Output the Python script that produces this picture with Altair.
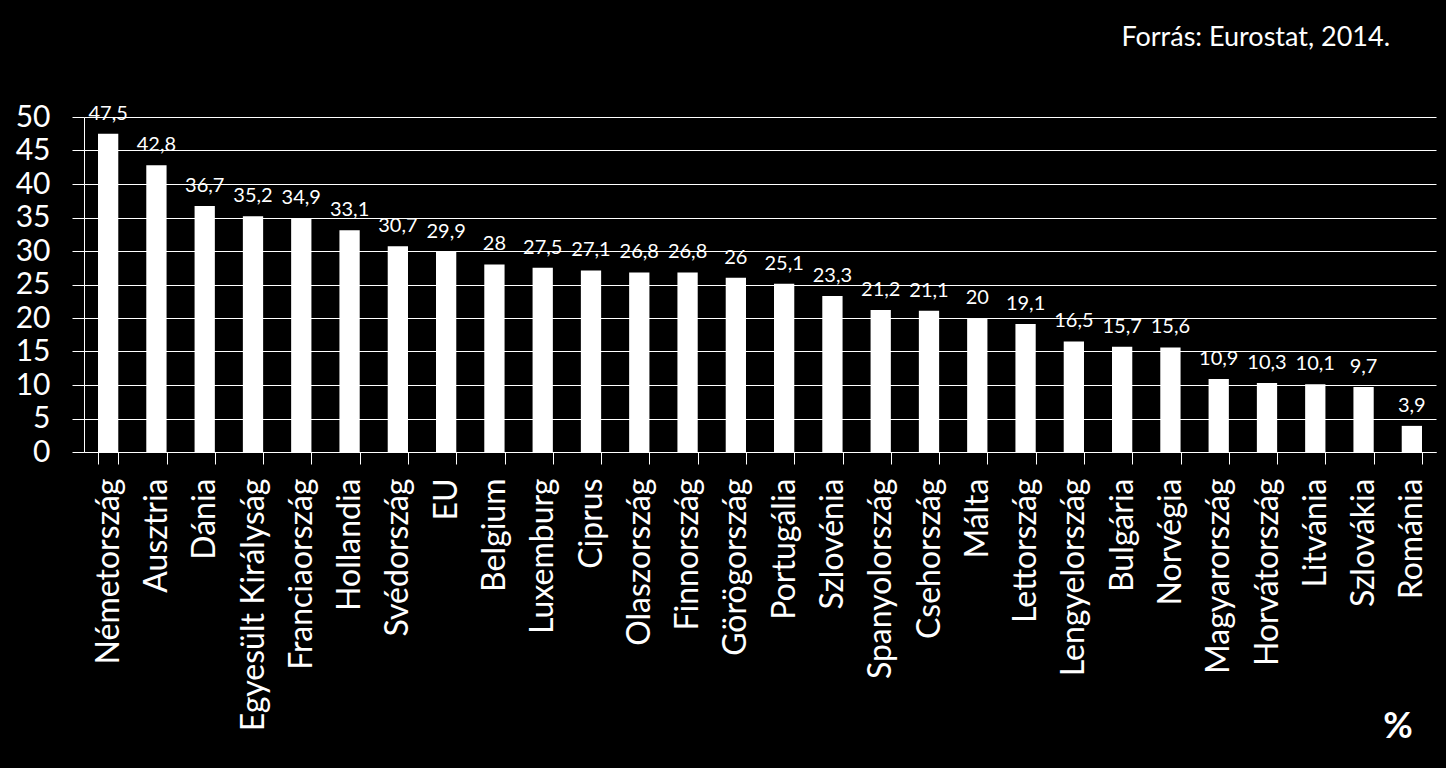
import altair as alt
import pandas as pd

countries = ["Németország", "Ausztria", "Dánia", "Egyesült Királyság", "Franciaország",
             "Hollandia", "Svédország", "EU", "Belgium", "Luxemburg", "Ciprus",
             "Olaszország", "Finnország", "Görögország", "Portugália", "Szlovénia",
             "Spanyolország", "Csehország", "Málta", "Lettország", "Lengyelország",
             "Bulgária", "Norvégia", "Magyarország", "Horvátország", "Litvánia",
             "Szlovákia", "Románia"]
values = [47.5, 42.8, 36.7, 35.2, 34.9, 33.1, 30.7, 29.9, 28, 27.5, 27.1, 26.8, 26.8,
          26, 25.1, 23.3, 21.2, 21.1, 20, 19.1, 16.5, 15.7, 15.6, 10.9, 10.3, 10.1, 9.7, 3.9]
y_ticks = [0, 5, 10, 15, 20, 25, 30, 35, 40, 45, 50]
source_text = "Forrás: Eurostat, 2014."
unit_text = "%"

df = pd.DataFrame({
    "country": countries,
    "value": values,
    "label": [f"{v:g}".replace(".", ",") for v in values],
})

FONT = "Lato"
W, H = 1352, 335

x = alt.X("country:N", sort=None, title=None,
          scale=alt.Scale(paddingInner=0.58, paddingOuter=0.29),
          axis=alt.Axis(labelAngle=-90, labelFontSize=32, labelColor="white",
                        labelFont=FONT, labelPadding=14, tickBand="extent",
                        tickColor="white", tickSize=12, domainColor="white",
                        labelBaseline="middle", labelAlign="right", grid=False,
                        labelLimit=400, labelOverlap=False))
y = alt.Y("value:Q", title=None,
          scale=alt.Scale(domain=[0, 50], nice=False),
          axis=alt.Axis(values=y_ticks, labelFontSize=30, labelColor="white",
                        labelFont=FONT, labelPadding=22, tickColor="white", tickSize=12,
                        domainColor="white", gridColor="white", gridOpacity=1,
                        gridWidth=1, labelOverlap=False, labelFlush=False))

bars = alt.Chart(df).mark_bar(color="white").encode(x=x, y=y)
labels = alt.Chart(df).mark_text(color="white", font=FONT, fontSize=20,
                                 baseline="bottom", dy=-10).encode(
    x=x, y=y, text="label:N")

src = alt.Chart(pd.DataFrame({"t": [source_text]})).mark_text(
    color="white", font=FONT, fontSize=27, align="right", baseline="middle").encode(
    x=alt.value(1306), y=alt.value(-79), text="t:N")
unit = alt.Chart(pd.DataFrame({"t": [unit_text]})).mark_text(
    color="white", font=FONT, fontSize=36, fontWeight="bold", align="center",
    baseline="middle").encode(x=alt.value(1314), y=alt.value(610), text="t:N")

chart = alt.layer(bars, labels, src, unit).properties(
    width=W, height=H, background="black",
    padding={"left": 84, "top": 117, "right": 10, "bottom": 316},
    autosize=alt.AutoSizeParams(type="none"),
).configure_view(stroke=None)

chart.save("out.html", embed_options={"renderer": "svg", "actions": False})
